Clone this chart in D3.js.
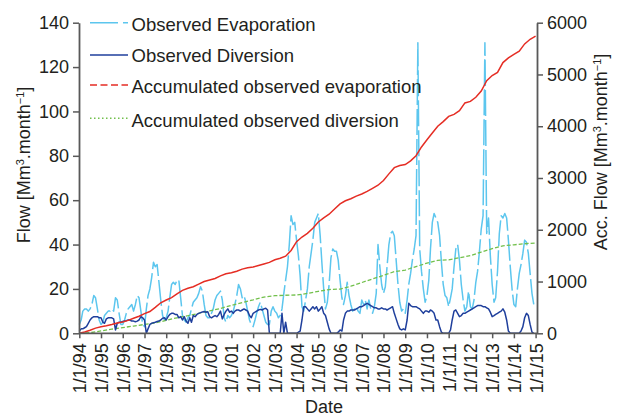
<!DOCTYPE html>
<html>
<head>
<meta charset="utf-8">
<script src="https://cdn.jsdelivr.net/npm/d3@7"></script>
<style>
  body { margin: 0; background: #fff; }
  svg { display: block; font-family: "Liberation Sans", Arial, sans-serif; }
</style>
</head>
<body>
<svg id="chart" width="619" height="417"></svg>
<script>
// monthly values, Jan 1994 .. Dec 2014 (Mm3/month)
var evaporation = [
  4, 6, 10, 11, 11, 10, 11, 13, 17, 16, 11, 6,      // 1994
  4, 5, 8, 9, 10, 10, 11, 10, 16, 15, 9, 4,         // 1995
  4, 6, 9, 11, 12, 13, 10, 13, 17, 16, 10, 4,       // 1996
  3, 11, 17, 20, 25, 32, 30, 31, 23, 15, 8, 6,      // 1997
  7, 10, 16, 22, 23, 22, 24, 24, 16, 8, 6, 5,       // 1998
  7, 8, 11, 14, 15, 16, 18, 21, 19, 13, 8, 7,       // 1999
  7, 9, 11, 15, 17, 18, 19, 15, 7, 5, 8, 7,         // 2000
  8, 10, 13, 17, 22, 20, 16, 17, 14, 10, 6, 4,      // 2001
  3, 6, 9, 12, 14, 11, 8, 5, 4, 4, 10, 12,          // 2002
  10, 9, 7, 8, 11, 18, 24, 30, 40, 53, 49, 50,      // 2003
  42, 35, 26, 12, 10, 15, 20, 30, 36, 42, 50, 52,   // 2004
  54, 44, 32, 20, 11, 14, 22, 34, 38, 37, 37, 33,   // 2005
  24, 16, 13, 17, 23, 17, 13, 10, 11, 12, 10, 9,    // 2006
  15, 13, 15, 11, 15, 11, 9, 12, 18, 40, 30, 22,    // 2007
  18, 21, 30, 40, 45, 46, 44, 33, 22, 14, 10, 11,   // 2008
  9, 15, 22, 27, 33, 38, 44, 131, 38, 28, 20, 14,   // 2009
  17, 24, 38, 50, 54, 52, 50, 44, 32, 22, 17, 16,   // 2010
  12, 16, 20, 30, 38, 40, 33, 22, 15, 10, 12, 19,   // 2011
  12, 11, 15, 23, 28, 37, 47, 53, 131, 45, 52, 35,  // 2012
  22, 14, 16, 28, 45, 53, 52, 54, 52, 42, 30, 20,   // 2013
  13, 12, 20, 27, 31, 36, 42, 41, 36, 27, 18, 13    // 2014
];
var diversion = [
  1, 2, 2, 2.5, 3, 4.5, 6, 7, 7.5, 7.5, 7.5, 7,                // 1994
  7, 5, 4.5, 6.5, 7, 7, 7, 6.5, 1.5, 4.5, 5, 5,                // 1995
  5.3, 5.5, 5.7, 6, 6, 5.5, 5.5, 5.2, 5.5, 6, 7.5, 7,          // 1996
  6, 0, 2, 4, 4.5, 4.8, 5, 5.3, 5.5, 6, 6.8, 7,                // 1997
  6, 7.5, 8.5, 9, 9, 8.5, 8.5, 7, 7.5, 6, 7.5, 5.5,            // 1998
  4.5, 7, 5, 8, 7.5, 8.5, 9, 9.3, 9.6, 9.8, 9.5, 9.7,          // 1999
  7.5, 7, 7.5, 8, 7.5, 8.5, 10, 6.5, 8.5, 10, 11, 9.5,         // 2000
  10, 9, 10, 10.5, 10.5, 10, 10.5, 11, 10.5, 10, 8, 7,         // 2001
  9, 9.5, 10, 10.5, 10.8, 10.5, 11, 11.3, 10.5, 0, 0, 0,       // 2002
  0, 0, 0, 0, 9, 0, 5, 0, 0, 0, 0, 0,                          // 2003
  0, 0.5, 1, 6, 12, 12, 11, 10, 11, 12, 11, 12,                // 2004
  10, 11, 12, 9, 8, 5, 2, 0, 0, 0, 0, 0.5,                     // 2005
  1.5, 1, 6, 9, 10, 10, 10.5, 10.5, 10.5, 11, 11.5, 12,        // 2006
  12, 12.5, 13, 13.5, 13, 12.5, 12, 11.5, 11.5, 11, 11, 11.5,  // 2007
  11, 11, 10.5, 11, 11.5, 12, 9, 6.5, 4, 2, 1.5, 2,            // 2008
  1.5, 6, 13.5, 12.5, 12, 12, 12, 11.5, 11, 10, 9, 10,         // 2009
  10, 9.5, 10.5, 10, 9, 6, 6, 3, 0.5, 0, 0, 0,                 // 2010
  0, 1.5, 6, 10, 10.5, 9, 7.5, 8, 9, 9, 9.5, 10,               // 2011
  10.5, 11, 11.5, 12, 12.5, 12.5, 12.5, 12, 12, 11.5, 11, 9.5, // 2012
  7.5, 8, 8.5, 9, 9.5, 10, 11, 9.5, 6, 1, 0, 0,                // 2013
  0, 0, 0, 0, 1, 3, 7, 9, 8, 4, 0.5, 0                         // 2014
];
// accumulated evaporation, read every quarter from 1/1/94 to 1/1/15 (right axis)
var accEvaporation = [
  0, 25, 60, 100,
  125, 145, 170, 200,
  220, 250, 290, 330,
  380, 420, 500, 590,
  643, 690, 760, 830,
  870, 900, 950, 1000,
  1030, 1060, 1110, 1150,
  1170, 1200, 1240, 1265,
  1280, 1310, 1340, 1370,
  1420, 1450, 1490, 1600,
  1770, 1860, 1930, 2030,
  2150, 2230, 2300, 2400,
  2500, 2560, 2600, 2650,
  2690, 2740, 2800, 2860,
  2950, 3080, 3200, 3240,
  3260, 3330, 3430, 3600,
  3740, 3870, 4000, 4090,
  4190, 4230, 4300, 4450,
  4480, 4560, 4680, 4880,
  4980, 5040, 5230, 5320,
  5390, 5450, 5590, 5680,
  5740
];
// accumulated diversion, read every half year from 1/1/94 to 1/1/15 (right axis)
var accDiversion = [
  0, 12, 45, 80, 110, 140, 170, 200, 250, 300, 340, 385,
  435, 480, 540, 595, 645, 700, 727, 735, 740, 770, 810, 845,
  855, 910, 980, 1050, 1120, 1190, 1220, 1290, 1355, 1410, 1420, 1460,
  1500, 1570, 1635, 1690, 1710, 1730, 1745
];
var yearTicks = d3.range(1994, 2016);
var leftTicks = [0, 20, 40, 60, 80, 100, 120, 140];
var rightTicks = [0, 1000, 2000, 3000, 4000, 5000, 6000];

var colEvap = "#5cc6ee", colDiv = "#1f3f9c", colAccEvap = "#e52d24", colAccDiv = "#72c04c";
var axisCol = "#595959", textCol = "#231f20";

var svg = d3.select("#chart");
var start = new Date(1994, 0, 1);
var x = d3.scaleTime().domain([start, new Date(2015, 0, 1)]).range([79.3, 535.6]);
var y = d3.scaleLinear().domain([0, 140]).range([333.3, 22.7]);
var y2 = d3.scaleLinear().domain([0, 6000]).range([333.3, 22.7]);

function monthly(vals, step) {
  return vals.map(function (v, i) { return { date: d3.timeMonth.offset(start, i * step), v: v }; });
}

// lines
var lineL = d3.line().x(function (d) { return x(d.date); }).y(function (d) { return y(d.v); });
var lineR = d3.line().x(function (d) { return x(d.date); }).y(function (d) { return y2(d.v); });

var plot = svg.append("g");
plot.append("path").datum(monthly(evaporation, 1)).attr("d", lineL)
  .attr("fill", "none").attr("stroke", colEvap).attr("stroke-width", 1.5)
  .attr("stroke-dasharray", "26,4").attr("stroke-linejoin", "round");
plot.append("path").datum(monthly(accDiversion, 6)).attr("d", lineR)
  .attr("fill", "none").attr("stroke", colAccDiv).attr("stroke-width", 1.3)
  .attr("stroke-dasharray", "4,2");
plot.append("path").datum(monthly(diversion, 1)).attr("d", lineL)
  .attr("fill", "none").attr("stroke", colDiv).attr("stroke-width", 1.5)
  .attr("stroke-linejoin", "round");
plot.append("path").datum(monthly(accEvaporation, 3)).attr("d", lineR)
  .attr("fill", "none").attr("stroke", colAccEvap).attr("stroke-width", 1.5);

// axes
var fontSize = "18px";
var axL = svg.append("g").attr("transform", "translate(79,0)")
  .call(d3.axisLeft(y).tickValues(leftTicks).tickSize(6).tickPadding(4).tickSizeOuter(0));
var axR = svg.append("g").attr("transform", "translate(537,0)")
  .call(d3.axisRight(y2).tickValues(rightTicks).tickFormat(d3.format("d"))
    .tickSize(6).tickPadding(4).tickSizeOuter(0));
var axB = svg.append("g").attr("transform", "translate(0,333.3)")
  .call(d3.axisBottom(x).tickValues(yearTicks.map(function (yr) { return new Date(yr, 0, 1); }))
    .tickFormat(d3.timeFormat("1/1/%y")).tickSize(5).tickSizeOuter(0));
axB.select(".domain").attr("d", "M79,0H537");

[axL, axR, axB].forEach(function (a) {
  a.select(".domain").attr("stroke", axisCol).attr("stroke-width", 1.8);
  a.selectAll(".tick line").attr("stroke", axisCol).attr("stroke-width", 1.5);
  a.selectAll("text").attr("fill", textCol).style("font-size", fontSize)
    .style("font-family", '"Liberation Sans", Arial, sans-serif');
});
axB.selectAll("text")
  .attr("transform", "rotate(-90)")
  .attr("text-anchor", "end")
  .attr("x", -10).attr("y", 0).attr("dy", "0.36em");

// axis titles
function unitTitle(g, prefix) {
  var t = g.append("text").attr("fill", textCol).style("font-size", fontSize).attr("text-anchor", "middle");
  t.append("tspan").text(prefix + " [Mm");
  t.append("tspan").text("3").attr("baseline-shift", "super").style("font-size", "11px");
  t.append("tspan").text(".month");
  t.append("tspan").text("\u22121").attr("baseline-shift", "super").style("font-size", "11px");
  t.append("tspan").text("]");
  return t;
}
unitTitle(svg.append("g").attr("transform", "translate(30,165) rotate(-90)"), "Flow");
unitTitle(svg.append("g").attr("transform", "translate(607,152) rotate(-90)"), "Acc. Flow");
svg.append("text").attr("x", 324).attr("y", 413).attr("text-anchor", "middle")
  .attr("fill", textCol).style("font-size", fontSize).text("Date");

// legend
var legendItems = [
  { label: "Observed Evaporation", color: colEvap, dash: "28,5", w: 1.5, ly: 22.7, ty: 30.5 },
  { label: "Observed Diversion", color: colDiv, dash: null, w: 1.5, ly: 55, ty: 61.7 },
  { label: "Accumulated observed evaporation", color: colAccEvap, dash: "7,3.5", w: 1.5, ly: 85, ty: 92.7 },
  { label: "Accumulated observed diversion", color: colAccDiv, dash: "1.5,2.5", w: 1.5, ly: 118.3, ty: 127 }
];
var leg = svg.append("g");
legendItems.forEach(function (it) {
  leg.append("line").attr("x1", 90).attr("x2", 128).attr("y1", it.ly).attr("y2", it.ly)
    .attr("stroke", it.color).attr("stroke-width", it.w)
    .attr("stroke-dasharray", it.dash);
  leg.append("text").attr("x", 131.5).attr("y", it.ty).attr("fill", textCol)
    .style("font-size", "18.5px").text(it.label);
});
</script>
</body>
</html>
